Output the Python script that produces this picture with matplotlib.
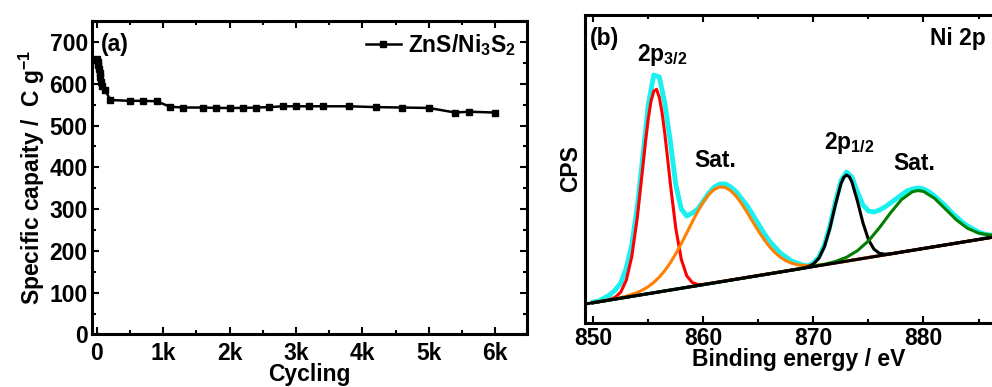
import matplotlib
matplotlib.use("Agg")
import matplotlib.pyplot as plt
from matplotlib.ticker import MultipleLocator

plt.rcParams['font.family'] = ['Liberation Sans', 'DejaVu Sans']
plt.rcParams['font.weight'] = 'bold'
plt.rcParams['axes.labelweight'] = 'bold'
plt.rcParams['mathtext.fontset'] = 'custom'
plt.rcParams['mathtext.rm'] = 'Liberation Sans:bold'
plt.rcParams['mathtext.bf'] = 'Liberation Sans:bold'
plt.rcParams['mathtext.it'] = 'Liberation Sans:bold'
plt.rcParams['mathtext.default'] = 'rm'

# ---- panel (a): cycling stability
cycles = [0, 10, 20, 30, 40, 50, 60, 80, 125, 200, 500, 700, 900, 1100, 1300,
          1600, 1800, 2000, 2200, 2400, 2600, 2800, 3000, 3200, 3400, 3800,
          4200, 4600, 5000, 5400, 5600, 6000]
capacity = [658, 652, 645, 636, 626, 615, 605, 595, 585, 561, 559, 559, 558,
            545, 543, 543, 542, 542, 542, 543, 544, 546, 546, 546, 546, 546,
            544, 543, 542, 531, 533, 531]
cyc_ticks = [0, 1000, 2000, 3000, 4000, 5000, 6000]
cyc_labels = ['0', '1k', '2k', '3k', '4k', '5k', '6k']

# ---- panel (b): Ni 2p XPS (arbitrary CPS units)
raw_e = [850 + 0.5 * i for i in range(79)]
raw_cps = [21, 22, 25, 28, 33, 40, 55, 78, 116, 166, 218, 248, 246, 220, 182,
           138, 114, 107, 110, 114, 122, 130, 136, 139, 139, 136, 131, 124,
           117, 108, 99, 90, 82, 76, 70, 66, 62, 60, 58, 57, 60, 66, 78, 97,
           121, 142, 151, 146, 131, 118, 112, 111, 113, 116, 120, 124, 128,
           132, 134, 135, 134, 131, 127, 122, 117, 111, 106, 101, 97, 94, 91,
           89, 88, 88, 88, 89, 89, 90, 91]

red_e = [850, 851, 851.5, 852, 852.5, 853, 853.5, 854, 854.5, 854.75, 855,
         855.25, 855.5, 855.75, 856, 856.25, 856.5, 856.75, 857, 857.5, 858,
         858.5, 859, 859.5, 860, 889]
red_cps = [20.3, 22.2, 23.5, 25.8, 30.9, 42.7, 66.3, 105.2, 155.8, 181.6,
           204.4, 221.9, 231.9, 233.7, 225.8, 210.5, 189.5, 165.1, 139.7,
           94.5, 63.6, 47.1, 40.4, 38.5, 38.6, 90.7]

orange_e = [850, 852, 853, 854, 854.5, 855, 855.5, 856, 856.5, 857, 857.5,
            858, 858.5, 859, 859.5, 860, 860.5, 861, 861.5, 862, 862.5, 863,
            863.5, 864, 864.5, 865, 865.5, 866, 866.5, 867, 867.5, 868,
            868.5, 869, 870, 871, 872, 873, 889]
orange_cps = [20.3, 24.3, 26.8, 30.5, 33.1, 36.4, 40.6, 45.9, 52.4, 60.2,
              69.3, 79.4, 90.2, 101.2, 111.7, 121.1, 128.6, 133.7, 136.1,
              135.5, 132.2, 126.5, 119.0, 110.3, 101.1, 92.1, 83.8, 76.5,
              70.5, 65.8, 62.3, 59.9, 58.4, 57.6, 57.5, 58.6, 60.1, 61.8, 90.7]

black_e = [850, 868, 869, 869.5, 870, 870.5, 871, 871.5, 872, 872.5, 872.75,
           873, 873.25, 873.5, 874, 874.5, 875, 875.5, 876, 876.5, 877, 889]
black_cps = [20.3, 52.8, 54.8, 56.2, 58.9, 64.8, 76.2, 94.8, 118.3, 139.1,
             145.5, 148.0, 146.4, 140.9, 121.9, 100.2, 83.4, 73.8, 69.7, 68.8,
             69.2, 90.7]

green_e = [850, 869, 870, 871, 872, 873, 874, 875, 876, 877, 878, 879, 879.5,
           880, 881, 882, 883, 884, 885, 886, 887, 888, 889]
green_cps = [20.3, 54.6, 56.6, 58.7, 61.5, 65.7, 72.3, 82.1, 95.3, 110.1,
             123.4, 131.3, 132.4, 131.6, 124.7, 113.9, 103.0, 94.7, 89.9,
             88.0, 88.1, 89.2, 90.8]

base_e = [849.5, 889]
base_cps = [19.4, 90.7]

fs = 16.5

fig = plt.figure(figsize=(9.92, 3.87), dpi=100)

ax1 = fig.add_axes([0.0927, 0.1357, 0.4385, 0.81])
ax1.plot(cycles, capacity, '-s', color='black', lw=1.8, ms=4.5,
         label='ZnS/Ni$_3$S$_2$')
ax1.set_xlim(-75, 6480)
ax1.set_ylim(0, 750)
ax1.set_xticks(cyc_ticks)
ax1.set_xticklabels(cyc_labels)
ax1.xaxis.set_minor_locator(MultipleLocator(500))
ax1.yaxis.set_major_locator(MultipleLocator(100))
ax1.yaxis.set_minor_locator(MultipleLocator(50))
ax1.set_xlabel('Cycling', fontsize=fs, labelpad=-1.5)
ax1.set_ylabel('Specific capaity /  C g$^{-1}$', fontsize=fs, labelpad=2)
ax1.text(0.02, 0.925, '(a)', transform=ax1.transAxes, fontsize=fs,
         va='center', ha='left')
ax1.legend(loc='upper right', frameon=False, fontsize=fs, handlelength=1.5,
           handletextpad=0.3, borderaxespad=0.2, borderpad=0.3)

ax2 = fig.add_axes([0.5897, 0.1654, 0.43, 0.7958])
ax2.plot(raw_e, raw_cps, color='#19F0F0', lw=3.5)
ax2.plot(red_e, red_cps, color='#FF0000', lw=2.2)
ax2.plot(orange_e, orange_cps, color='#FF8000', lw=2.2)
ax2.plot(black_e, black_cps, color='black', lw=2.2)
ax2.plot(green_e, green_cps, color='#008000', lw=2.2)
ax2.plot(base_e, base_cps, color='black', lw=2.2)
ax2.set_xlim(849.25, 888)
ax2.set_ylim(0, 308)
ax2.xaxis.set_major_locator(MultipleLocator(10))
ax2.xaxis.set_minor_locator(MultipleLocator(5))
ax2.set_yticks([])
ax2.set_xlabel('Binding energy / eV', fontsize=fs, labelpad=-1.5)
ax2.set_ylabel('CPS', fontsize=fs, labelpad=2)
ax2.text(0.012, 0.925, '(b)', transform=ax2.transAxes, fontsize=fs,
         va='center', ha='left')
ax2.text(0.81, 0.925, 'Ni 2p', transform=ax2.transAxes, fontsize=fs,
         va='center', ha='left')
ax2.text(854.0, 268, '2p$_{3/2}$', fontsize=fs, va='center', ha='left')
ax2.text(861.1, 163, 'Sat.', fontsize=fs, va='center', ha='center')
ax2.text(871.0, 180, '2p$_{1/2}$', fontsize=fs, va='center', ha='left')
ax2.text(879.2, 160, 'Sat.', fontsize=fs, va='center', ha='center')

for ax in (ax1, ax2):
    for sp in ax.spines.values():
        sp.set_linewidth(2.2)
    ax.tick_params(which='both', direction='in', top=True, labelsize=fs,
                   width=1.5, pad=3)
    ax.tick_params(which='major', length=5)
    ax.tick_params(which='minor', length=3)
ax1.tick_params(which='both', right=True)
ax1.tick_params(axis='x', which='both', pad=5.7)

fig.savefig('out.png', dpi=100)
